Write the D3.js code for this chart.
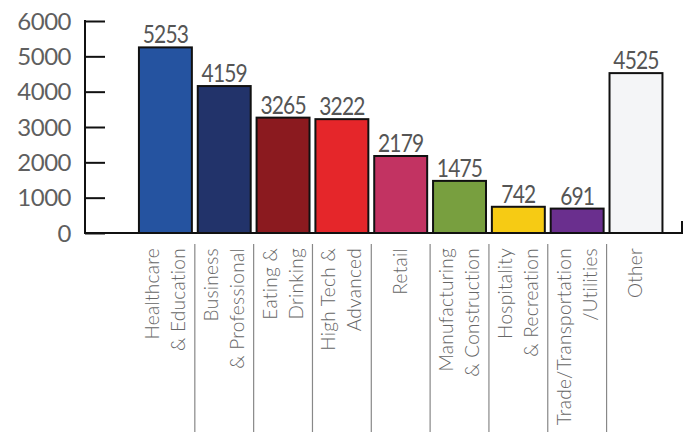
<!DOCTYPE html>
<html><head><meta charset="utf-8">
<script src="https://cdn.jsdelivr.net/npm/d3@7"></script>
<style>body{margin:0;background:#fff}svg{display:block}</style>
</head><body>
<svg id="c" width="689" height="432"></svg>
<script>
const categories = ["Healthcare|& Education","Business|& Professional","Eating &|Drinking","High Tech &|Advanced","Retail","Manufacturing|& Construction","Hospitality|& Recreation","Trade/Transportation|/Utilities","Other"];
const values = [5253,4159,3265,3222,2179,1475,742,691,4525];
const colors = ["#2553a0","#22336a","#8b1a1f","#e5262a","#c23362","#789f3f","#f6cb14","#6a2f8e","#f4f5f7"];
const yTicks = [0,1000,2000,3000,4000,5000,6000];

const svg = d3.select("#c");
const font = "Lato, 'Open Sans', sans-serif";
const y = d3.scaleLinear().domain([0,6000]).range([233,21]);
const x = d3.scaleBand().domain(categories).range([136,665.4]).paddingInner(0.1).paddingOuter(0.05);

// y axis
const yAxis = d3.axisRight(y).tickValues(yTicks).tickSize(20).tickFormat("");
const ga = svg.append("g").attr("transform","translate(85,0)").call(yAxis);
ga.select(".domain").remove();
ga.selectAll(".tick line").attr("stroke","#111").attr("stroke-width",2);
svg.append("line").attr("x1",85).attr("x2",85).attr("y1",y(6000)-1).attr("y2",y(0)+1).attr("stroke","#111").attr("stroke-width",2);
svg.selectAll(".ylab").data(yTicks).enter().append("text")
  .attr("x",71).attr("y",d=>y(d)+8.5).attr("text-anchor","end")
  .attr("font-family",font).attr("font-size",24).attr("fill","#5f5f5f").attr("letter-spacing",-0.5)
  .text(d=>d);

// bars
svg.selectAll(".bar").data(values).enter().append("rect")
  .attr("x",(d,i)=>x(categories[i])).attr("width",x.bandwidth())
  .attr("y",d=>y(d)).attr("height",d=>y(0)-y(d))
  .attr("fill",(d,i)=>colors[i]).attr("stroke","#111").attr("stroke-width",2);

// baseline
svg.append("line").attr("x1",84).attr("x2",683).attr("y1",y(0)).attr("y2",y(0)).attr("stroke","#111").attr("stroke-width",2);
svg.append("line").attr("x1",682).attr("x2",682).attr("y1",221).attr("y2",y(0)).attr("stroke","#111").attr("stroke-width",2);

// value labels (condensed)
values.forEach((d,i)=>{
  const cx = x(categories[i])+x.bandwidth()/2;
  svg.append("g").attr("transform",`translate(${cx},${y(d)-4}) scale(0.84,1)`)
    .append("text").attr("text-anchor","middle").attr("font-family",font).attr("font-size",25)
    .attr("letter-spacing",-1).attr("fill","#555").text(d);
});

// separators
categories.slice(1).forEach((c,i)=>{
  const xx = x(c) - x.step()*x.paddingInner()/2;
  svg.append("line").attr("x1",xx).attr("x2",xx).attr("y1",244).attr("y2",432).attr("stroke","#888").attr("stroke-width",1.2);
});

// category labels
categories.forEach((c,i)=>{
  const lines = c.split("|");
  const cx = x(c)+x.bandwidth()/2;
  const g = svg.append("g").attr("transform",`translate(${cx},248) rotate(-90)`);
  const sp = 26;
  lines.forEach((l,j)=>{
    const off = (j-(lines.length-1)/2)*sp + 6.5;
    g.append("text").attr("x",0).attr("y",off).attr("text-anchor","end")
      .attr("font-family",font).attr("font-weight",300).attr("font-size",19).attr("letter-spacing",0.3).attr("fill","#666")
      .text(l);
  });
});
</script>
</body></html>
